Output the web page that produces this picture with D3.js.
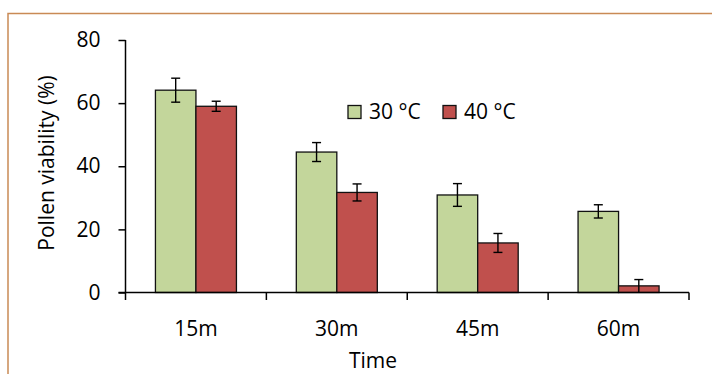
<!DOCTYPE html>
<html>
<head>
<meta charset="utf-8">
<script src="https://cdn.jsdelivr.net/npm/d3@7"></script>
<style>
  html, body { margin: 0; padding: 0; background: #fff; }
  svg { display: block; }
  text { font-family: "Open Sans", "Liberation Sans", sans-serif; fill: #000; }
</style>
</head>
<body>
<svg id="chart" width="712" height="374"></svg>
<script>
// Pollen viability after heat exposure
const categories = ["15m", "30m", "45m", "60m"];
const seriesNames = ["30 °C", "40 °C"];
const values30 = [64.1, 44.5, 30.9, 25.7];
const errors30 = [3.8, 3.0, 3.6, 2.1];
const values40 = [59.0, 31.7, 15.7, 2.1];
const errors40 = [1.6, 2.7, 3.0, 2.0];
const yTicks = [0, 20, 40, 60, 80];
const colors = ["#C3D69B", "#C0504D"];

const svg = d3.select("#chart");

// chart area frame
svg.append("rect")
  .attr("x", 8).attr("y", 13.5)
  .attr("width", 800).attr("height", 500)
  .attr("fill", "none")
  .attr("stroke", "#C98A55")
  .attr("stroke-width", 1.5);

const x0 = 125.5, x1 = 689, yTop = 40, yBase = 292.5;

const x = d3.scaleBand().domain(categories).range([x0, x1]).padding(0);
const groupW = 81;
const xs = d3.scaleBand().domain(seriesNames).range([0, groupW]).padding(0);
const y = d3.scaleLinear().domain([0, 80]).range([yBase, yTop]);

const rows = categories.map((c, i) => ({
  cat: c,
  vals: [
    { s: seriesNames[0], v: values30[i], e: errors30[i], col: colors[0] },
    { s: seriesNames[1], v: values40[i], e: errors40[i], col: colors[1] }
  ]
}));

const groups = svg.selectAll("g.grp").data(rows).enter().append("g")
  .attr("class", "grp")
  .attr("transform", d => `translate(${x(d.cat) + (x.bandwidth() - groupW) / 2},0)`);

groups.selectAll("rect").data(d => d.vals).enter().append("rect")
  .attr("x", d => xs(d.s))
  .attr("y", d => y(d.v))
  .attr("width", xs.bandwidth())
  .attr("height", d => y(0) - y(d.v))
  .attr("fill", d => d.col)
  .attr("stroke", "#111")
  .attr("stroke-width", 1.3);

// error bars
const eb = groups.selectAll("g.err").data(d => d.vals).enter().append("g")
  .attr("class", "err")
  .attr("stroke", "#000").attr("stroke-width", 1.4);
eb.append("line")
  .attr("x1", d => xs(d.s) + xs.bandwidth() / 2)
  .attr("x2", d => xs(d.s) + xs.bandwidth() / 2)
  .attr("y1", d => y(d.v + d.e))
  .attr("y2", d => y(Math.max(0, d.v - d.e)));
eb.append("line")
  .attr("x1", d => xs(d.s) + xs.bandwidth() / 2 - 4.5)
  .attr("x2", d => xs(d.s) + xs.bandwidth() / 2 + 4.5)
  .attr("y1", d => y(d.v + d.e))
  .attr("y2", d => y(d.v + d.e));
eb.filter(d => d.v - d.e > 0.5).append("line")
  .attr("x1", d => xs(d.s) + xs.bandwidth() / 2 - 4.5)
  .attr("x2", d => xs(d.s) + xs.bandwidth() / 2 + 4.5)
  .attr("y1", d => y(d.v - d.e))
  .attr("y2", d => y(d.v - d.e));

// y axis
const yAxis = d3.axisLeft(y).tickValues(yTicks).tickSize(7).tickPadding(18);
const gy = svg.append("g").attr("transform", `translate(${x0},0)`).call(yAxis);
gy.select(".domain").attr("d", `M0,${yTop}V${yBase}`).attr("stroke", "#000").attr("stroke-width", 1.5);
gy.selectAll(".tick line").attr("stroke", "#000").attr("stroke-width", 1.5);
gy.selectAll(".tick text")
  .attr("font-size", 21)
  .attr("font-family", "'Open Sans', sans-serif")
  .attr("fill", "#000");

// x axis line and category boundary ticks
svg.append("line")
  .attr("x1", x0 - 7).attr("x2", x1)
  .attr("y1", yBase).attr("y2", yBase)
  .attr("stroke", "#000").attr("stroke-width", 1.5);
const bounds = categories.map(c => x(c)).concat([x1]);
svg.selectAll("line.xt").data(bounds).enter().append("line")
  .attr("class", "xt")
  .attr("x1", d => d).attr("x2", d => d)
  .attr("y1", yBase).attr("y2", yBase + 7.5)
  .attr("stroke", "#000").attr("stroke-width", 1.5);
svg.selectAll("text.xl").data(categories).enter().append("text")
  .attr("class", "xl")
  .attr("x", d => x(d) + x.bandwidth() / 2)
  .attr("y", 336)
  .attr("text-anchor", "middle")
  .attr("font-size", 21)
  .text(d => d);

// axis titles
svg.append("text")
  .attr("x", 373).attr("y", 368)
  .attr("text-anchor", "middle")
  .attr("font-size", 21)
  .text("Time");
svg.append("text")
  .attr("transform", "translate(54,163) rotate(-90)")
  .attr("text-anchor", "middle")
  .attr("font-size", 21)
  .text("Pollen viability (%)");

// legend
const legendX = [348, 443];
const lg = svg.selectAll("g.lg").data(seriesNames).enter().append("g")
  .attr("class", "lg")
  .attr("transform", (d, i) => `translate(${legendX[i]},105.5)`);
lg.append("rect")
  .attr("width", 13).attr("height", 13)
  .attr("fill", (d, i) => colors[i])
  .attr("stroke", "#111").attr("stroke-width", 1.3);
lg.append("text")
  .attr("x", 21).attr("y", 13.5)
  .attr("font-size", 21)
  .text(d => d);
</script>
</body>
</html>
